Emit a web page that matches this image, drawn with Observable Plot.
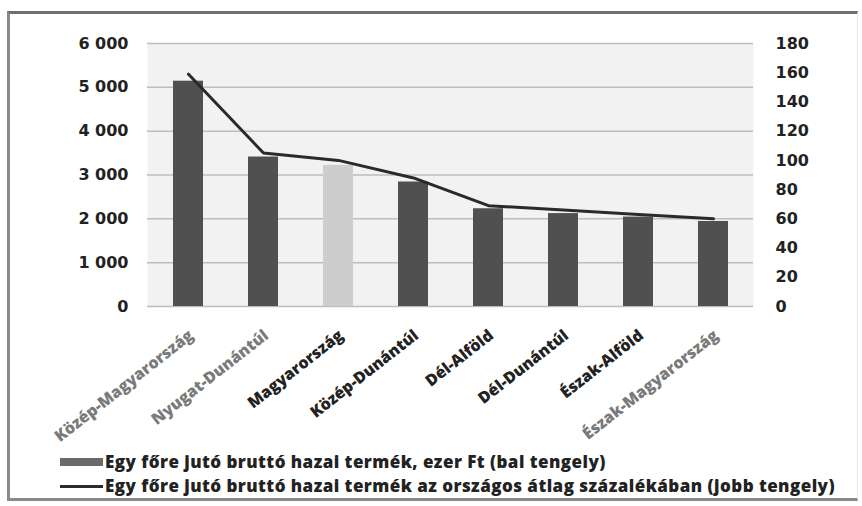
<!DOCTYPE html>
<html><head><meta charset="utf-8">
<script src="https://cdn.jsdelivr.net/npm/d3@7"></script>
<script src="https://cdn.jsdelivr.net/npm/@observablehq/plot@0.6"></script>
<style>
body{margin:0;background:#fff;}
#wrap{position:relative;width:862px;height:506px;overflow:hidden;font-family:"Open Sans",sans-serif;}
#frame{position:absolute;left:7px;top:11px;width:851px;height:490px;border-top:3px solid #6f6f6f;border-left:3px solid #8a8a8a;border-bottom:3px solid #8a8a8a;border-right:1px solid #e8e8e8;box-sizing:border-box;}
#chart{position:absolute;left:0;top:0;}
.li{position:absolute;left:60px;height:24px;line-height:24px;display:flex;align-items:center;font-weight:800;font-size:17px;letter-spacing:0.45px;color:#222;white-space:nowrap;}
.sw{display:inline-block;width:43px;margin-right:2px;}
.sw.bar{height:8px;background:#6a6a6a;}
.sw.ln{height:3px;background:#2a2a2a;}
</style></head><body>
<div id="wrap">
<div id="frame"></div>
<div id="chart"></div>
<div class="li" style="top:450px"><span class="sw bar"></span><span>Egy főre jutó bruttó hazai termék, ezer Ft (bal tengely)</span></div>
<div class="li" style="top:474px"><span class="sw ln"></span><span>Egy főre jutó bruttó hazai termék az országos átlag százalékában (jobb tengely)</span></div>
</div>
<script>
const regions = ["Közép-Magyarország","Nyugat-Dunántúl","Magyarország","Közép-Dunántúl","Dél-Alföld","Dél-Dunántúl","Észak-Alföld","Észak-Magyarország"];
const gdp = [5140, 3410, 3220, 2840, 2230, 2120, 2040, 1940];
const pct = [159, 105, 100, 88, 69, 66, 63, 60];
const leftTicks = [0, 1000, 2000, 3000, 4000, 5000, 6000];
const rightTicks = [0, 20, 40, 60, 80, 100, 120, 140, 160, 180];
const highlight = "Magyarország";
const fadedLabels = ["Közép-Magyarország","Nyugat-Dunántúl","Észak-Magyarország"];

const K = 6000 / 180;
const data = regions.map((r, i) => ({region: r, gdp: gdp[i], pct: pct[i]}));
const fmt = d3.formatLocale({thousands: "\u00a0", grouping: [3], decimal: ","}).format(",d");

const plot = Plot.plot({
  width: 862, height: 448,
  marginLeft: 147, marginRight: 109, marginTop: 43, marginBottom: 142,
  x: {domain: regions, paddingInner: 0.6, paddingOuter: 0.3, axis: null},
  y: {domain: [0, 6000], axis: null},
  style: {fontFamily: "DejaVu Sans", fontWeight: "bold", fontSize: "16px", color: "#222", background: "transparent"},
  marks: [
    Plot.frame({fill: "#f2f2f2", stroke: null}),
    Plot.ruleY(leftTicks, {stroke: "#bdbdbd", strokeWidth: 1.5}),
    Plot.barY(data.filter(d => d.region !== highlight), {x: "region", y: "gdp", fill: "#505050"}),
    Plot.barY(data.filter(d => d.region === highlight), {x: "region", y: "gdp", fill: "#cdcdcd"}),
    Plot.line(data, {x: "region", y: d => d.pct * K, stroke: "#2a2a2a", strokeWidth: 3}),
    Plot.axisY({ticks: leftTicks, tickFormat: fmt, tickSize: 0, tickPadding: 19, anchor: "left", label: null, fill: "#222"}),
    Plot.axisY({ticks: rightTicks.map(t => t * K), tickFormat: d => String(Math.round(d / K)), tickSize: 0, tickPadding: 22, anchor: "right", label: null, fill: "#222"}),
    Plot.text(regions, {x: d => d, frameAnchor: "bottom", dx: 6, dy: 31, rotate: -38, textAnchor: "end", lineAnchor: "bottom",
      fontFamily: "Open Sans", fontWeight: 800, fontSize: 16,
      fill: d => fadedLabels.includes(d) ? "#7a7a7a" : "#222"})
  ]
});
document.getElementById("chart").appendChild(plot);
</script>
</body></html>
